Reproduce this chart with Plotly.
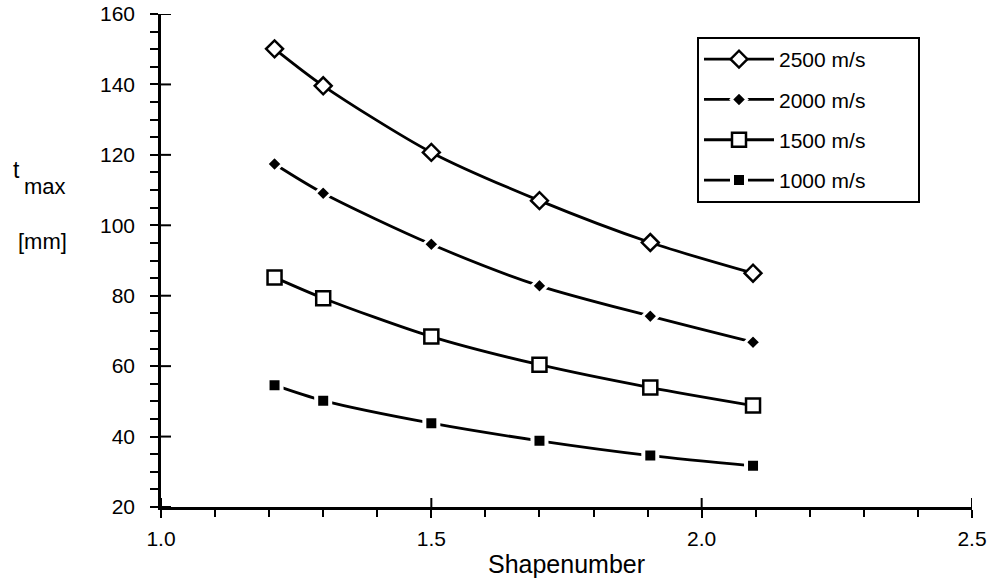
import plotly.graph_objects as go

shapenumber = [1.21, 1.30, 1.50, 1.70, 1.905, 2.095]
t_2500 = [150.1, 139.6, 120.7, 107.0, 95.1, 86.4]
t_2000 = [117.4, 109.1, 94.6, 82.8, 74.2, 66.8]
t_1500 = [85.2, 79.3, 68.4, 60.4, 53.9, 48.8]
t_1000 = [54.6, 50.2, 43.8, 38.8, 34.6, 31.7]
names = ["2500 m/s", "2000 m/s", "1500 m/s", "1000 m/s"]
x_ticks = [1.0, 1.5, 2.0, 2.5]
y_ticks = [20, 40, 60, 80, 100, 120, 140, 160]
x_range = [1.0, 2.5]
y_range = [20, 160]

FONT = "Liberation Sans, Arial, Helvetica, sans-serif"
W, H = 811, 493  # plot area size in px
fig = go.Figure()

styles = [
    dict(symbol="diamond", size=13, color="white", line=dict(color="black", width=2.5)),
    dict(symbol="diamond", size=12, color="black", line=dict(color="white", width=3)),
    dict(symbol="square", size=14, color="white", line=dict(color="black", width=2.5)),
    dict(symbol="square", size=14, color="black", line=dict(color="white", width=4)),
]
for i, (name, ys) in enumerate(zip(names, [t_2500, t_2000, t_1500, t_1000])):
    fig.add_trace(go.Scatter(
        x=shapenumber, y=ys, name=name + "\u00a0" * 8, mode="lines+markers",
        line=dict(color="black", width=2.8, shape="spline", smoothing=0.8),
        marker=styles[i], legendgroup=name,
    ))

common_font = dict(family=FONT, size=21, color="black")
fig.update_layout(
    width=989, height=578,
    margin=dict(l=161, r=17, t=14, b=71),
    paper_bgcolor="white", plot_bgcolor="white",
    font=common_font,
    showlegend=True,
    legend=dict(
        x=(697 - 161) / W, y=(507 - 37) / H, xanchor="left", yanchor="top",
        bordercolor="black", borderwidth=2, bgcolor="white",
        font=dict(family=FONT, size=21, color="black"),
        tracegroupgap=10, itemwidth=70,
    ),
    xaxis=dict(
        range=x_range, tickvals=x_ticks, ticktext=[f"{v:.1f}" for v in x_ticks],
        showgrid=False, zeroline=False, showline=True, linecolor="black", linewidth=2.5,
        ticks="outside", ticklen=8, tickwidth=2, tickcolor="black",
        minor=dict(dtick=0.1, ticks="outside", ticklen=7, tickwidth=2, tickcolor="black", showgrid=False),
        tickfont=common_font, ticklabelstandoff=3, automargin=False,
        title=dict(text="Shapenumber", font=dict(family=FONT, size=25, color="black"), standoff=8),
    ),
    yaxis=dict(
        range=y_range, tickvals=y_ticks,
        showgrid=False, zeroline=False, showline=True, linecolor="black", linewidth=2.5,
        ticks="outside", ticklen=8, tickwidth=2, tickcolor="black",
        minor=dict(dtick=5, ticks="outside", ticklen=8, tickwidth=2, tickcolor="black", showgrid=False),
        tickfont=common_font, ticklabelstandoff=11, automargin=False,
    ),
)

# inside halves of the major ticks (the reference's major ticks cross the axis line)
for v in x_ticks:
    fig.add_shape(type="line", xref="x", yref="y domain", x0=v, x1=v,
                  y0=0, y1=9 / H, layer="above", line=dict(color="black", width=2))
for v in y_ticks:
    fig.add_shape(type="line", xref="x domain", yref="y", y0=v, y1=v,
                  x0=0, x1=10 / W, layer="above", line=dict(color="black", width=2))

# y-axis title pieces: t, max (subscript), [mm]  (positions given in pixels)
for text, px, py, sz in [("t", 16, 170, 23), ("max", 45, 186, 22), ("[mm]", 42, 241, 22)]:
    fig.add_annotation(text=text, x=(px - 161) / W, y=(507 - py) / H,
                       xref="paper", yref="paper", showarrow=False,
                       xanchor="center", yanchor="middle",
                       font=dict(family=FONT, size=sz, color="black"))

fig.write_html("out.html")
